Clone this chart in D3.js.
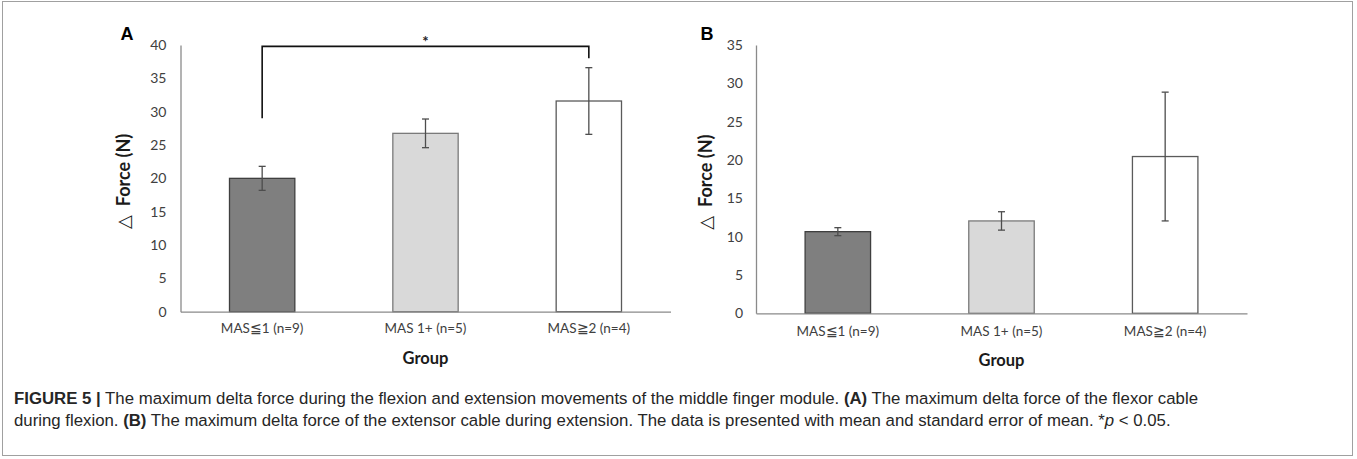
<!DOCTYPE html>
<html><head><meta charset="utf-8">
<script src="https://cdn.jsdelivr.net/npm/d3@7"></script>
<style>
html,body{margin:0;padding:0;background:#fff;}
svg{display:block;}
</style></head>
<body>
<svg id="fig" width="1357" height="459"></svg>
<script>
// ---- data ----
const categories = ["MAS\u22661 (n=9)", "MAS 1+ (n=5)", "MAS\u22672 (n=4)"];
const meanA = [20.0, 26.75, 31.6];
const semA  = [1.8, 2.15, 5.0];
const meanB = [10.65, 12.05, 20.45];
const semB  = [0.52, 1.2, 8.4];
const ticksA = [0, 5, 10, 15, 20, 25, 30, 35, 40];
const ticksB = [0, 5, 10, 15, 20, 25, 30, 35];
const barFills = ["#7f7f7f", "#d9d9d9", "#ffffff"];
const barStrokes = ["#3f3f3f", "#7a7a7a", "#5a5a5a"];
// significance bracket (panel A): between group 0 and 2
const sigBracket = {from: 0, to: 2, top: 39.8, leftEnd: 29.0, rightEnd: 38.0, label: "*"};

const svg = d3.select("#fig");
const chartFont = "Lato, 'Open Sans', sans-serif";

// border
svg.append("rect").attr("x", 2.5).attr("y", 1.5).attr("width", 1350).attr("height", 454)
  .attr("fill", "none").attr("stroke", "#a0a0a0").attr("stroke-width", 1);

function panel(opts) {
  const g = svg.append("g");
  const x = d3.scaleBand().domain(categories).range([opts.x0, opts.x1]).paddingInner(0.6).paddingOuter(0.3);
  const y = d3.scaleLinear().domain([0, opts.ymax]).range([opts.y0, opts.y1]);

  // y axis
  const ya = g.append("g").attr("transform", `translate(${opts.x0},0)`)
    .call(d3.axisLeft(y).tickValues(opts.ticks).tickSize(0).tickPadding(opts.tickPad));
  ya.select(".domain").attr("stroke", "#8a8a8a").attr("stroke-width", 1.3);
  ya.selectAll("text").attr("font-family", chartFont).attr("font-size", 14).attr("fill", "#404040");

  // bars
  g.selectAll("rect.bar").data(opts.mean).join("rect")
    .attr("class", "bar")
    .attr("x", (d, i) => x(categories[i]))
    .attr("width", x.bandwidth())
    .attr("y", d => y(d))
    .attr("height", d => y(0) - y(d))
    .attr("fill", (d, i) => barFills[i])
    .attr("stroke", (d, i) => barStrokes[i])
    .attr("stroke-width", 1.3);

  // error bars
  const cx = i => x(categories[i]) + x.bandwidth() / 2;
  const eb = g.selectAll("g.err").data(opts.mean).join("g").attr("class", "err")
    .attr("stroke", "#4d4d4d").attr("stroke-width", 1.3);
  eb.append("line").attr("x1", (d, i) => cx(i)).attr("x2", (d, i) => cx(i))
    .attr("y1", (d, i) => y(d + opts.sem[i])).attr("y2", (d, i) => y(d - opts.sem[i]));
  eb.append("line").attr("x1", (d, i) => cx(i) - 3.5).attr("x2", (d, i) => cx(i) + 3.5)
    .attr("y1", (d, i) => y(d + opts.sem[i])).attr("y2", (d, i) => y(d + opts.sem[i]));
  eb.append("line").attr("x1", (d, i) => cx(i) - 3.5).attr("x2", (d, i) => cx(i) + 3.5)
    .attr("y1", (d, i) => y(d - opts.sem[i])).attr("y2", (d, i) => y(d - opts.sem[i]));

  // x axis
  const xa = g.append("g").attr("transform", `translate(0,${opts.y0})`)
    .call(d3.axisBottom(x).tickSize(0).tickPadding(opts.xPad));
  xa.select(".domain").attr("stroke", "#8a8a8a").attr("stroke-width", 1.3);
  xa.selectAll("text").attr("font-family", chartFont).attr("font-size", 13.5).attr("fill", "#404040");

  // axis titles
  const yt = g.append("text").attr("transform", `translate(${opts.ylabX},${(opts.y0 + opts.y1) / 2 + 3}) rotate(-90)`)
    .attr("text-anchor", "middle").attr("dominant-baseline", "middle")
    .attr("font-family", chartFont).attr("font-weight", "bold").attr("font-size", 18).attr("fill", "#1a1a1a");
  yt.append("tspan").attr("font-family", "'DejaVu Sans', sans-serif").attr("font-weight", "bold")
    .attr("font-size", 18).text("\u25B3");
  yt.append("tspan").text("\u2002Force (N)");
  g.append("text").attr("x", (opts.x0 + opts.x1) / 2).attr("y", opts.groupY)
    .attr("text-anchor", "middle")
    .attr("font-family", chartFont).attr("font-weight", "bold").attr("font-size", 16.5).attr("fill", "#1a1a1a")
    .text("Group");

  // panel letter
  g.append("text").attr("x", opts.letterX).attr("y", 40).attr("text-anchor", "middle")
    .attr("font-family", "'Liberation Sans', Arial, sans-serif").attr("font-weight", "bold")
    .attr("font-size", 18).attr("fill", "#000").text(opts.letter);

  return {g, x, y, cx};
}

const A = panel({x0: 180.5, x1: 670.5, y0: 311.7, y1: 45, ymax: 40, ticks: ticksA, mean: meanA, sem: semA,
  tickPad: 14, xPad: 12, ylabX: 125, groupY: 364, letterX: 127, letter: "A"});
const B = panel({x0: 756, x1: 1247, y0: 313.3, y1: 45, ymax: 35, ticks: ticksB, mean: meanB, sem: semB,
  tickPad: 13, xPad: 13, ylabX: 707, groupY: 366, letterX: 707, letter: "B"});

// significance bracket
const bx1 = A.cx(sigBracket.from), bx2 = A.cx(sigBracket.to);
A.g.append("path")
  .attr("d", `M${bx1},${A.y(sigBracket.leftEnd)}V${A.y(sigBracket.top)}H${bx2}V${A.y(sigBracket.rightEnd)}`)
  .attr("fill", "none").attr("stroke", "#111").attr("stroke-width", 1.6);
A.g.append("text").attr("x", (bx1 + bx2) / 2).attr("y", A.y(sigBracket.top) + 1)
  .attr("text-anchor", "middle").attr("font-family", chartFont).attr("font-weight", "bold")
  .attr("font-size", 15).attr("fill", "#222").text(sigBracket.label);

// caption
const cap = svg.append("g").attr("font-family", "'Liberation Sans', Arial, sans-serif")
  .attr("font-size", 16.8).attr("fill", "#262626");
const l1 = cap.append("text").attr("x", 14).attr("y", 404);
l1.append("tspan").attr("font-weight", "bold").text("FIGURE 5 |");
l1.append("tspan").text(" The maximum delta force during the flexion and extension movements of the middle finger module. ");
l1.append("tspan").attr("font-weight", "bold").text("(A)");
l1.append("tspan").text(" The maximum delta force of the flexor cable");
const l2 = cap.append("text").attr("x", 14).attr("y", 426);
l2.append("tspan").text("during flexion. ");
l2.append("tspan").attr("font-weight", "bold").text("(B)");
l2.append("tspan").text(" The maximum delta force of the extensor cable during extension. The data is presented with mean and standard error of mean. *");
l2.append("tspan").attr("font-style", "italic").text("p");
l2.append("tspan").text(" < 0.05.");
</script>
</body></html>
